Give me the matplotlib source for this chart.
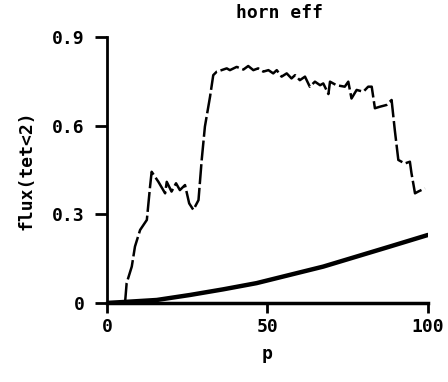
import matplotlib
matplotlib.use("Agg")
import matplotlib.pyplot as plt

# dashed curve (flux, horn)
p_dash = [5.6, 6.1, 7.7, 8.7, 10.3, 12.4, 13.4, 13.9, 16.0, 18.1, 18.6, 20.1, 21.5, 22.7,
          24.3, 25.6, 26.9, 28.5, 29.5, 30.5, 32.1, 33.1, 34.2, 35.7, 37.3, 38.3, 40.4,
          42.5, 44.0, 45.6, 47.1, 48.7, 50.3, 51.8, 52.9, 54.4, 56.0, 57.5, 58.6, 60.1,
          61.7, 63.2, 64.8, 66.4, 67.4, 69.0, 69.5, 71.5, 74.1, 75.2, 76.2, 77.8, 79.9,
          81.4, 82.5, 83.5, 85.0, 87.1, 88.7, 89.7, 90.8, 92.8, 94.4, 94.9, 96.0, 97.0, 99.1]
f_dash = [0.0, 0.067, 0.123, 0.191, 0.247, 0.281, 0.394, 0.444, 0.41, 0.371, 0.41, 0.377,
          0.405, 0.382, 0.399, 0.337, 0.315, 0.348, 0.484, 0.597, 0.698, 0.771, 0.783,
          0.788, 0.794, 0.788, 0.799, 0.790, 0.802, 0.788, 0.794, 0.783, 0.788, 0.777,
          0.788, 0.766, 0.777, 0.760, 0.771, 0.754, 0.766, 0.732, 0.749, 0.737, 0.743,
          0.707, 0.749, 0.737, 0.732, 0.749, 0.692, 0.721, 0.715, 0.732, 0.732, 0.659,
          0.664, 0.670, 0.687, 0.585, 0.484, 0.472, 0.478, 0.439, 0.371, 0.377, 0.388]

# solid curve
p_solid = [0, 5, 15.5, 25.9, 36.2, 46.6, 57.0, 67.4, 77.8, 88.2, 100]
f_solid = [0.0, 0.003, 0.01, 0.027, 0.046, 0.067, 0.095, 0.123, 0.157, 0.191, 0.23]

xticks = [0, 50, 100]
xticklabels = ["0", "50", "100"]
yticks = [0, 0.3, 0.6, 0.9]
yticklabels = ["0", "0.3", "0.6", "0.9"]

font = {"family": "DejaVu Sans Mono", "weight": "bold", "size": 13}

fig = plt.figure(figsize=(4.48, 3.82), dpi=100)
ax = fig.add_axes([0.239, 0.207, 0.716, 0.696])

ax.plot(p_dash, f_dash, color="black", lw=1.8, linestyle=(0, (8, 1.5)))
ax.plot(p_solid, f_solid, color="black", lw=3.2, solid_capstyle="round")

ax.set_xlim(0, 100)
ax.set_ylim(0, 0.9)
for s in ["top", "right"]:
    ax.spines[s].set_visible(False)
ax.spines["left"].set_linewidth(2)
ax.spines["bottom"].set_linewidth(2.5)

ax.set_xticks(xticks)
ax.set_xticklabels(xticklabels, fontdict=font)
ax.set_yticks(yticks)
ax.set_yticklabels(yticklabels, fontdict=font)
ax.tick_params(axis="x", direction="out", length=7, width=2, pad=4)
ax.tick_params(axis="y", direction="out", length=9, width=2, pad=7)

ax.set_xlabel("p", fontdict=font, labelpad=6)
ax.set_ylabel("flux(tet<2)", fontdict=font, labelpad=12)
fig.text(0.623, 0.965, "horn eff", ha="center", va="center", **font)

fig.savefig("out.png", dpi=100)
